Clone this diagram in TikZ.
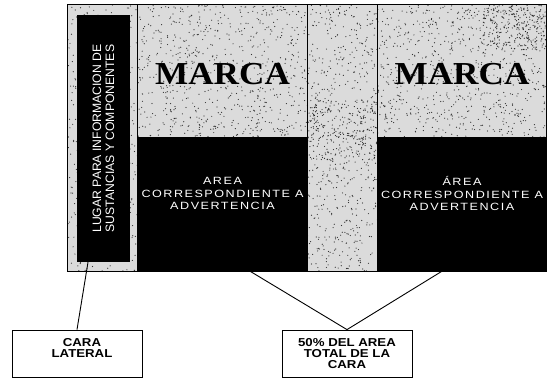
\documentclass[tikz,border=0pt]{standalone}
\usepackage{fontspec}
\setmainfont{Liberation Sans}
\newfontfamily\marcafont{Liberation Serif}
\newfontfamily\spacedsans[LetterSpace=12]{Liberation Sans}
\pgfdeclarelayer{background}
\pgfsetlayers{background,main}
\begin{document}
\begin{tikzpicture}[x=1pt,y=-1pt,
  region/.style={draw=none,fill=none,inner sep=0pt},
  blackbox/.style={draw=none,fill=black,inner sep=0pt},
  marcatext/.style={font=\marcafont\bfseries\fontsize{32}{32}\selectfont,xscale=1.1},
  warntext/.style={text=white,align=center,font=\spacedsans\fontsize{10.5}{12.5}\selectfont,xscale=1.2},
  lattext/.style={text=white,align=center,rotate=90,font=\fontsize{12.2}{13}\selectfont},
  labelbox/.style={draw=black,line width=0.8pt,fill=white,inner sep=0pt,minimum width=130pt,minimum height=47pt},
  labeltext/.style={align=center,font=\bfseries\fontsize{11.5}{11}\selectfont,xscale=1.15},
  divider/.style={line width=1.3pt},
  connector/.style={line width=0.9pt}]
\useasboundingbox (0,0) rectangle (550,380);

% regions
\node[region,minimum width=70pt,minimum height=266pt] (latstrip) at (103,138) {};
\node[region,minimum width=169pt,minimum height=132pt] (marca1) at (222.5,71) {};
\node[region,minimum width=71pt,minimum height=266pt] (mid) at (342.5,138) {};
\node[region,minimum width=168pt,minimum height=132pt] (marca2) at (462,71) {};

\begin{pgfonlayer}{background}
  \fill[white] (0,0) rectangle (550,380);
  \foreach \r in {latstrip,marca1,mid,marca2}{
    \fill[black!14] (\r.north west) rectangle (\r.south east);
  }
  \pgfmathsetseed{7}
  \fill[black!80] \foreach \k in {1,...,450} {({68+70*rnd},{5+266*rnd}) circle (0.6)};
  \fill[black!80] \foreach \k in {1,...,700} {({138+169*rnd},{5+132*rnd}) circle (0.6)};
  \fill[black!80] \foreach \k in {1,...,600} {({307+71*rnd},{5+266*rnd}) circle (0.6)};
  \fill[black!80] \foreach \k in {1,...,700} {({378+168*rnd},{5+132*rnd}) circle (0.6)};
  \fill[black!85] \foreach \k in {1,...,250} {({480+66*rnd},{5+45*rnd}) circle (0.6)};
  \fill[black!85] \foreach \k in {1,...,200} {({307+71*rnd},{100+60*rnd}) circle (0.6)};
\end{pgfonlayer}

% texts of brand areas
\node[marcatext] (m1) at ([yshift=-3pt]marca1.center) {MARCA};
\node[marcatext] (m2) at ([yshift=-3pt]marca2.center) {MARCA};

% black areas
\node[blackbox,minimum width=53pt,minimum height=247pt] (lat) at (103.5,138.5) {};
\node[lattext] (lt) at (lat.center) {LUGAR PARA INFORMACION DE\\SUSTANCIAS Y COMPONENTES};
\node[blackbox,minimum width=169pt,minimum height=134pt] (adv1) at (222.5,204) {};
\node[blackbox,minimum width=168pt,minimum height=134pt] (adv2) at (462,204) {};
\node[warntext] (w1) at ([yshift=10.5pt]adv1.center) {AREA\\CORRESPONDIENTE A\\ADVERTENCIA};
\node[warntext] (w2) at ([yshift=10.5pt]adv2.center) {ÁREA\\CORRESPONDIENTE A\\ADVERTENCIA};

% frame and dividers
\draw[divider] (marca1.north west) -- (adv1.south west);
\draw[divider] (marca1.north east) -- (adv1.south east);
\draw[divider] (marca2.north west) -- (adv2.south west);
\draw[line width=1pt] (latstrip.north west) rectangle (adv2.south east);

% label boxes
\node[labelbox] (cara) at (77,353.5) {};
\node[labeltext] (caratext) at ([xshift=5pt,yshift=6pt]cara.center) {CARA\\LATERAL};
\node[labelbox] (pct) at (347,353.5) {};
\node[labeltext] (pcttext) at (pct.center) {50\% DEL AREA\\TOTAL DE LA\\CARA};

% connectors
\draw[connector] ([xshift=-15.5pt]lat.south) -- (cara.north);
\draw[connector] ([xshift=27.5pt]adv1.south) -- (pct.north) -- ([xshift=-20pt]adv2.south);
\end{tikzpicture}
\end{document}
